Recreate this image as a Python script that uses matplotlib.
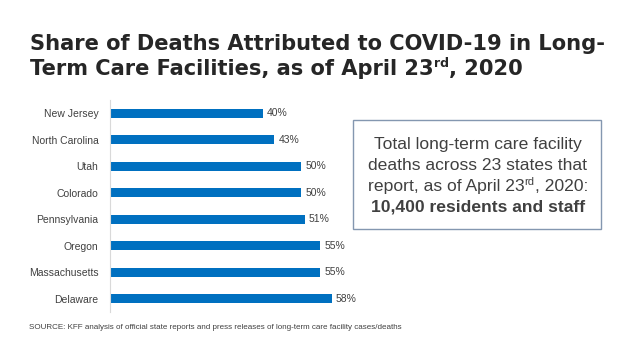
import matplotlib
matplotlib.use("Agg")
from matplotlib import pyplot as plt
from matplotlib.patches import Rectangle

states = ["New Jersey", "North Carolina", "Utah", "Colorado", "Pennsylvania",
          "Oregon", "Massachusetts", "Delaware"]
shares = [40, 43, 50, 50, 51, 55, 55, 58]

TEXT = "#404040"
BAR = "#0070C0"
plt.rcParams["font.family"] = ["Liberation Sans", "DejaVu Sans"]

fig = plt.figure(figsize=(6.4, 3.6), dpi=100)
W, H = 640, 360


def fx(px):
    return px / W


def fy(py):
    return 1 - py / H


ax = fig.add_axes([fx(109.5), fy(312), 383 / W, 212 / H])
ypos = range(len(states))
ax.barh(ypos, shares, height=0.34, color=BAR)
ax.set_ylim(len(states) - 0.5, -0.5)
ax.set_xlim(0, 100)
ax.set_yticks(list(ypos))
ax.set_yticklabels(states, fontsize=7.5, color=TEXT)
ax.tick_params(axis="y", length=0, pad=8)
ax.set_xticks([])
for side in ["top", "right", "bottom"]:
    ax.spines[side].set_visible(False)
ax.spines["left"].set_color("#d9d9d9")
ax.spines["left"].set_linewidth(0.8)
for y, v in zip(ypos, shares):
    ax.annotate(f"{v}%", (v, y), xytext=(3, 0), textcoords="offset points",
                va="center", ha="left", fontsize=7.5, color=TEXT)

fig.canvas.draw()
renderer = fig.canvas.get_renderer()


def runs(x, y, parts, color=TEXT, family=None):
    # draw text pieces one after another, for superscripts
    for s, size, dy, bold in parts:
        kw = {"family": family} if family else {}
        t = fig.text(x, y + dy / H, s, fontsize=size,
                     fontweight="bold" if bold else "normal", color=color,
                     ha="left", va="baseline", **kw)
        bb = t.get_window_extent(renderer)
        x = bb.x1 / W
    return x


def width_of(parts):
    total = 0
    for s, size, dy, bold in parts:
        t = fig.text(0, 0, s, fontsize=size, fontweight="bold" if bold else "normal")
        total += t.get_window_extent(renderer).width
        t.remove()
    return total


# title
tcol = "#262626"
tfam = "DejaVu Sans"
runs(fx(30), fy(50), [("Share of Deaths Attributed to COVID-19 in Long-", 15.1, 0, True)],
     color=tcol, family=tfam)
runs(fx(30), fy(75), [("Term Care Facilities, as of April 23", 15.1, 0, True),
                      ("rd", 9, 8, True),
                      (", 2020", 15.1, 0, True)], color=tcol, family=tfam)

# callout box
fig.patches.append(Rectangle((fx(353), fy(229)), (601 - 353) / W, (229 - 120) / H,
                             transform=fig.transFigure, fill=False,
                             edgecolor="#8497B0", linewidth=1))
cx = 478
box_lines = [
    [("Total long-term care facility", 12.6, 0, False)],
    [("deaths across 23 states that", 12.6, 0, False)],
    [("report, as of April 23", 12.6, 0, False), ("rd", 8, 6, False), (", 2020:", 12.6, 0, False)],
    [("10,400 residents and staff", 12.6, 0, True)],
]
for i, parts in enumerate(box_lines):
    w = width_of(parts)
    runs((cx - w / 2) / W, fy(149 + 21 * i), parts)

fig.text(fx(29), fy(329), "SOURCE: KFF analysis of official state reports and press releases "
         "of long-term care facility cases/deaths", fontsize=5.75, color=TEXT,
         ha="left", va="baseline")

fig.savefig("out.png", dpi=100)
